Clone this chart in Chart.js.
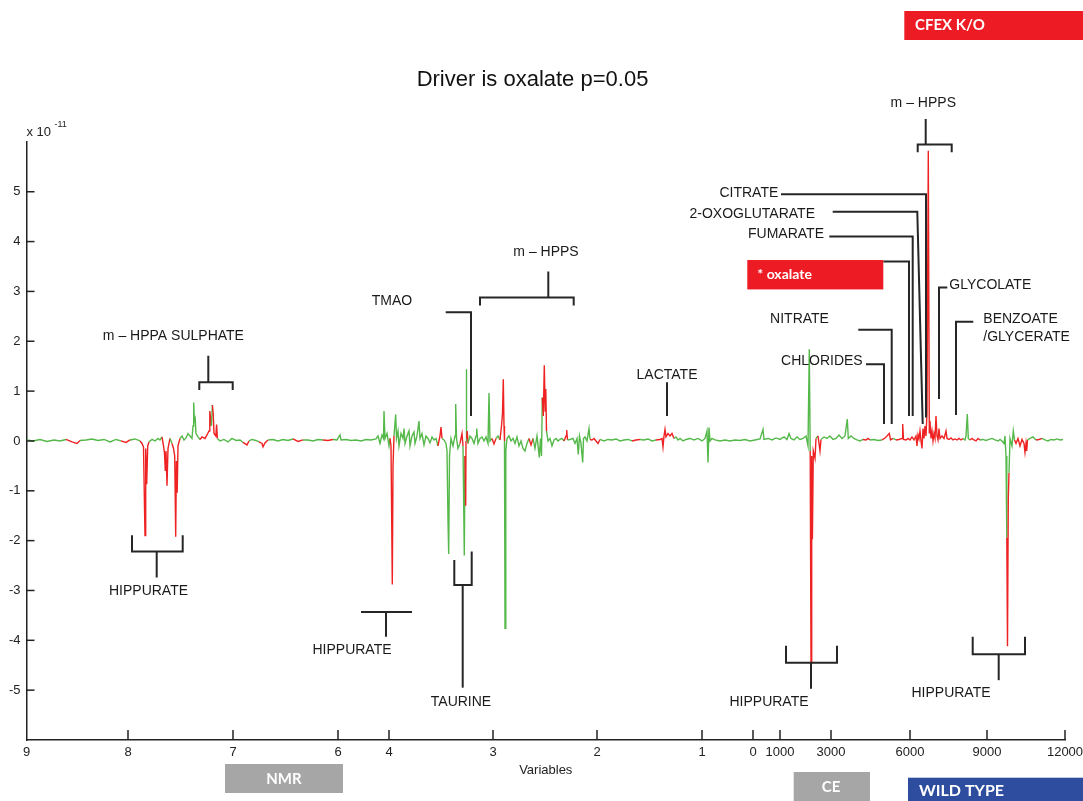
<!DOCTYPE html>
<html><head><meta charset="utf-8">
<script src="https://cdn.jsdelivr.net/npm/chart.js@4.4.1/dist/chart.umd.min.js"></script>
<style>html,body{margin:0;padding:0;background:#fff;}#wrap{width:1083px;height:801px;position:relative;}</style>
</head><body><div id="wrap"><canvas id="c" width="1083" height="801"></canvas></div>
<script>
// ---- NMR part (variable index 0..726) ----
const nmrIndex = [0,6,13,20,27,33,39,45,50,53,59,65,71,77,83,89,94,99,103,108,113,115,116.5,118,118.7,119.7,120.7,122,125,128,131,133,135,136.5,137.5,138.3,139,140,141,143,145,146.5,147.7,148.7,149.4,150.2,151,153,155,157,159,161,163,165,166,166.7,167.4,168.2,169,171,173,175,178,180,182,182.8,183.6,184.4,185.4,186.2,187,188.8,189.6,190.4,193,197,201,205,209,213,216,220,222,225,229,232,235,236,238,241,246,251,256,261,266,271,276,281,286,291,296,301,306,310,313,314,319,324,329,334,339,344,349,351,353,355,356.5,357,358,360,362,363,364,365.3,366,367,368.7,369.5,371,372,374,376,377,378,380,382,383,385,387,388,390,392,393,395,397,399,401,403,405,407,409,411,413,414,415,417,419,420,421,421.7,422.5,424,426,428,428.7,429.5,431,433,435,436,437.3,438,438.7,439,439.3,439.7,440.2,441,443,445,447,449,449.7,451,453,455,457,459,461,462,463,465,467,469,471,473,474.5,475.5,476.3,477,477.5,478,478.8,480,482,484,486,488,490,492,494,496,498,500,502,504,506,508,510,512.3,513.5,514.5,515.3,516.3,517.3,518.2,518.8,519.5,521,523,525,527,529,531,533,535,537,539,539.7,540.5,543,546,548,550,551.3,552.5,554,555.7,556.5,558,560,562,563,565,567,569,571,573,577,581,585,589,593,597,601,605,609,613,617,621,625,629,633,635,636,637,638,639,641,643,645,647,649,651,653,656,659,663,667,671,675,678,680,681,682,683,685,688,693,698,703,708,713,718,723];
const nmrLoading = [0.02,0,0.03,-0.01,0.02,0,0.03,-0.02,-0.05,0.01,0.02,0.04,0.01,0.03,-0.02,0.03,0,-0.03,0.02,0.04,0,-0.05,-0.12,-1.9,-0.15,-0.87,-0.1,-0.02,0.03,0,0.05,0.02,0.08,-0.1,-0.25,-0.6,-0.2,-0.9,-0.15,0.05,-0.05,-0.15,-0.3,-1.92,-0.4,-1.04,-0.1,0.05,0.1,0.02,0.06,0.15,0.1,0.05,0.3,0.77,0.4,0.45,0.15,0.08,0.03,0.08,0.05,0.12,0.2,0.6,0.45,0.3,0.72,0.55,0.15,0.1,0.33,0.05,0,0.03,-0.02,0.05,0.01,0.02,-0.03,-0.08,0,0.03,0.01,-0.02,-0.05,-0.12,-0.04,0.02,0.03,0,0.03,0.01,0.04,-0.01,0.02,0.02,0,0.03,0.02,0.01,0.03,0.02,0.12,0.02,0.03,0.01,0.02,0,0.03,0.02,0.04,0.1,-0.05,0.12,0.05,0.6,0.05,0.15,-0.1,0.05,-0.1,-2.88,-0.5,0.1,0.53,0.05,0.2,-0.1,0.15,0.05,0.25,-0.05,0.1,0.2,-0.1,0.1,0.18,-0.05,0.1,0.4,0.05,0.15,-0.08,0.1,0.05,-0.04,0.08,0.02,0.05,-0.1,0.1,0.28,0.05,0.02,-0.05,-0.2,-1.6,-2.27,-0.3,0.05,-0.1,0.1,0.74,0.05,-0.15,-0.05,0.15,-0.1,-2.3,-0.3,-1.3,0,1.44,0.05,0.2,-0.05,0.1,0.05,-0.05,0.1,0.25,-0.05,0.05,0.08,0,0.08,-0.05,0.96,0,0.05,-0.06,0.05,0.1,0.02,0.3,0.55,1.24,0.3,0,-3.76,-0.2,0.05,0.1,0,0.05,-0.05,0.08,-0.1,0,-0.15,-0.2,-0.05,0.05,-0.08,0.05,-0.15,0.1,-0.33,0.05,-0.3,0.87,0.5,1.52,0.6,1.04,0.2,0,0.05,-0.1,0.02,0.05,0,0.03,0.05,0,0.1,0.22,0.02,0.03,0.05,-0.05,0.05,-0.27,0.1,-0.05,-0.43,0.05,0.08,0,0.25,0.03,0.02,0.05,0,-0.05,0.03,0,0.03,0.02,0.04,0,0.02,0.03,0,0.02,0.03,0.02,0.04,0,0.02,0.03,0.05,-0.12,0.1,0.23,0.08,0.15,0.1,0.15,0.05,0.08,0.02,0.05,0,0.03,0.05,0.02,0.05,0,0.05,0.2,-0.43,0.27,0,0.05,0.02,0,0.02,0,0.02,0.01,0.03,0];
// ---- CE part (variable index 726..1038) ----
const ceIndex = [728,733,736,737,741,745,749,753,757,760,762,764,767,770,773,776,779,781,782.3,783.2,784,784.7,785.4,786.3,788,789,791,793,794,797,800,803,806,809,812,815,818,820.3,821.3,824,827,830,833,836,839,841,843,847,851,855,858,860,862.3,863.5,866,869,872,875,875.7,876.5,879,881,883,885,887,889,890,891,892,893,894,895,896,897,898,899,900,901.3,902.3,903,904,905,906,907,908,909,910,911,912,913,915,917,919,920,922,924,926,928,930,932,934,936,938,939,940.3,941.3,943,945,947,949,951,953,956,959,962,965,968,971,973,975,977,978,979,979.8,980.5,981.3,982,983,985,986.3,987.5,989,991,993,995,997,998,999,999.7,1000.5,1003,1006,1009,1012,1015,1018,1021,1024,1027,1030,1033,1036];
const ceLoading = [0.02,0.04,0.23,0.03,0.05,0.02,0.06,0.03,0.08,0.03,0.15,0.05,0.02,0.08,0.03,0.05,0.1,-0.1,1.84,-0.2,-4.45,-0.3,-1.97,-0.2,-0.35,0.05,0.1,-0.2,0.03,0.08,0.05,0.1,0.03,0.05,0.12,0.05,0.1,0.44,0.05,0.1,0.05,0.02,0,0.03,0.02,0.05,0.02,0.03,0.01,0.02,0.06,0.1,0.15,0.02,0.05,0.02,0.03,0.05,0.34,0.03,0.02,0.05,0.02,0.08,0.02,0.1,-0.1,0.12,0.04,0.2,0,-0.15,0.25,0.05,0.3,0.1,0.55,5.82,0.15,0.4,0.05,0.2,0,0.15,0.05,0.5,0.1,0.02,0.25,0.05,0.1,0.05,0.2,0.05,0.03,0.06,0.02,0.04,0.02,0.05,0.02,0.05,0.02,0.1,0.54,0.05,0.02,0.05,0.02,0,0.05,0.02,0.03,0.01,0.03,0.05,0.02,0,0.03,0,-0.05,0.1,-0.3,-1.94,-4.12,-1.14,-0.64,0.05,-0.1,0.2,0.02,-0.05,0.05,-0.1,0.03,-0.05,-0.23,-0.05,-0.2,0.02,0.05,0.08,0.02,0.03,0.05,0.02,0,0.03,0.02,0.04,0.02,0.03];
// variable-index ranges flagged significant (p < 0.05)
const nmrSignificantRanges = [[45,50],[99,99],[115,120.7],[136.5,141],[146.5,151],[175,175],[180,183.6],[186.2,189.6],[220,220],[235,238],[271,271],[301,301],[364,366],[413,414],[435,435],[438.7,438.7],[440.2,440.2],[467,467],[474.5,477],[504,504],[516.3,518.8],[539,539.7],[565,567],[571,571],[609,609],[633,645]];
const ceSignificantRanges = [[784,788],[793,793],[839,841],[858,863.5],[872,885],[889,922],[926,928],[932,934],[945,945],[949,951],[980.5,981.3],[989,999.7],[1012,1012]];

const xTickPositions = [-0.5,101,206,311,362,466,570,675,726,753,804,883,960,1038];
const xTickLabels = ['9','8','7','6','4','3','2','1','0','1000','3000','6000','9000','12000'];
const yTickValues = [-5,-4,-3,-2,-1,0,1,2,3,4,5];

const annotationLabels = [
  {text:'m \u2013 HPPA SULPHATE', x:146.4, y:2.11, align:'center'},
  {text:'HIPPURATE', x:121.5, y:-3.01, align:'center'},
  {text:'HIPPURATE', x:325, y:-4.19, align:'center'},
  {text:'TAURINE', x:434, y:-5.24, align:'center'},
  {text:'TMAO', x:365, y:2.81, align:'center'},
  {text:'m \u2013 HPPS', x:519, y:3.79, align:'center'},
  {text:'LACTATE', x:640, y:1.32, align:'center'},
  {text:'m \u2013 HPPS', x:896.3, y:6.78, align:'center'},
  {text:'CITRATE', x:751.3, y:4.98, align:'right'},
  {text:'2-OXOGLUTARATE', x:788, y:4.56, align:'right'},
  {text:'FUMARATE', x:797, y:4.15, align:'right'},
  {text:'GLYCOLATE', x:922.3, y:3.13, align:'left'},
  {text:'NITRATE', x:772.5, y:2.44, align:'center'},
  {text:'CHLORIDES', x:835.7, y:1.61, align:'right'},
  {text:'BENZOATE', x:956.3, y:2.44, align:'left'},
  {text:'/GLYCERATE', x:956.3, y:2.08, align:'left'},
  {text:'HIPPURATE', x:742, y:-5.24, align:'center'},
  {text:'HIPPURATE', x:924, y:-5.05, align:'center'}
];
const annotationLines = [
  [[172.3,1.02],[172.3,1.18],[205.7,1.18],[205.7,1.02]], [[181.3,1.18],[181.3,1.71]],
  [[105,-1.89],[105,-2.22],[155.7,-2.22],[155.7,-1.89]], [[129.7,-2.22],[129.7,-2.74]],
  [[334,-3.43],[385,-3.43]], [[359,-3.43],[359,-3.93]],
  [[427.3,-2.39],[427.3,-2.89],[444.7,-2.89],[444.7,-2.22]], [[435.7,-2.89],[435.7,-4.95]],
  [[418.7,2.58],[444,2.58],[444,0.5]],
  [[453,2.72],[453,2.88],[546.7,2.88],[546.7,2.72]], [[521.3,2.88],[521.3,3.40]],
  [[640,1.18],[640,0.5]],
  [[890.7,5.79],[890.7,5.95],[924.7,5.95],[924.7,5.79]], [[898.7,5.95],[898.7,6.46]],
  [[754,4.95],[899,4.95],[899,0.47]],
  [[805.7,4.60],[890.3,4.60],[895.7,0.34]],
  [[802.3,4.10],[885.7,4.10],[885.7,0.5]],
  [[856.3,3.60],[882,3.60],[882,0.5]],
  [[920.3,3.08],[912,3.08],[912,0.84]],
  [[831.3,2.23],[864.7,2.23],[864.7,0.34]],
  [[839,1.54],[857,1.54],[857,0.34]],
  [[946.3,2.39],[929,2.39],[929,0.52]],
  [[759,-4.11],[759,-4.45],[810,-4.45],[810,-4.11]], [[784,-4.45],[784,-4.97]],
  [[945.7,-3.93],[945.7,-4.28],[998,-4.28],[998,-3.93]], [[971.7,-4.28],[971.7,-4.80]]
];
const oxalateBox = {x0:720.3, x1:856.3, y0:3.63, y1:3.04, text:'* oxalate'};

const GREEN = '#55b84a';
const RED = '#ee2222';
const FONT = 'Arial, "Liberation Sans", sans-serif';
const BOXFONT = 'Lato, "Open Sans", sans-serif';

const points = nmrIndex.map((x,i)=>({x, y:nmrLoading[i]})).concat(ceIndex.map((x,i)=>({x, y:ceLoading[i]})));
const sigRanges = nmrSignificantRanges.concat(ceSignificantRanges);
const sig = points.map(p => sigRanges.some(r => p.x >= r[0] && p.x <= r[1]));

const decor = {
  id:'decor',
  afterDraw(chart){
    const {ctx, scales:{x, y}, chartArea:a} = chart;
    ctx.save();
    ctx.strokeStyle = '#222'; ctx.lineWidth = 1.5;
    yTickValues.forEach(v=>{ const py=y.getPixelForValue(v); ctx.beginPath(); ctx.moveTo(a.left,py); ctx.lineTo(a.left+8,py); ctx.stroke(); });
    xTickPositions.forEach((v,i)=>{ if(i===0) return; const px=x.getPixelForValue(v); ctx.beginPath(); ctx.moveTo(px,a.bottom); ctx.lineTo(px,a.bottom-10); ctx.stroke(); });
    ctx.fillStyle = '#222'; ctx.textBaseline='middle'; ctx.textAlign='left';
    ctx.font = '13px '+FONT; ctx.fillText('x 10', 26.5, 132.5);
    ctx.font = '9px '+FONT; ctx.fillText('-11', 54.5, 125);
    ctx.strokeStyle = '#262626'; ctx.lineWidth = 2; ctx.lineJoin='miter';
    annotationLines.forEach(pl=>{
      ctx.beginPath();
      pl.forEach((p,i)=>{ const px=x.getPixelForValue(p[0]), py=y.getPixelForValue(p[1]); i?ctx.lineTo(px,py):ctx.moveTo(px,py); });
      ctx.stroke();
    });
    const bx0=x.getPixelForValue(oxalateBox.x0), bx1=x.getPixelForValue(oxalateBox.x1);
    const by0=y.getPixelForValue(oxalateBox.y0), by1=y.getPixelForValue(oxalateBox.y1);
    ctx.fillStyle = '#ed1c24'; ctx.fillRect(bx0,by0,bx1-bx0,by1-by0);
    ctx.fillStyle = '#fff'; ctx.font = 'bold 14px '+BOXFONT; ctx.textAlign='left';
    ctx.fillText(oxalateBox.text, bx0+10, (by0+by1)/2);
    ctx.fillStyle = '#1a1a1a'; ctx.font = '14px '+FONT;
    annotationLabels.forEach(l=>{ ctx.textAlign=l.align; ctx.fillText(l.text, x.getPixelForValue(l.x), y.getPixelForValue(l.y)); });
    const boxes = [
      {x:904.3,y:11,w:179,h:29,c:'#ed1c24',t:'CFEX K/O',tx:915,ty:25.5,al:'left',f:'bold 15px '},
      {x:225,y:764,w:118,h:29,c:'#a6a6a6',t:'NMR',tx:284,ty:779,al:'center',f:'bold 15px '},
      {x:793.7,y:772,w:76.3,h:29,c:'#a6a6a6',t:'CE',tx:831,ty:787,al:'center',f:'bold 15px '},
      {x:908,y:777.7,w:175,h:24,c:'#2e4d9e',t:'WILD TYPE',tx:919,ty:791,al:'left',f:'bold 16px '}
    ];
    boxes.forEach(b=>{ ctx.fillStyle=b.c; ctx.fillRect(b.x,b.y,b.w,b.h); ctx.fillStyle='#fff'; ctx.font=b.f+BOXFONT; ctx.textAlign=b.al; ctx.fillText(b.t,b.tx,b.ty); });
    ctx.restore();
  }
};

new Chart(document.getElementById('c'), {
  type:'line',
  data:{datasets:[{data:points, borderColor:GREEN, borderWidth:1.4, pointRadius:0, tension:0, fill:false,
    segment:{borderColor: c => (sig[c.p0DataIndex]||sig[c.p1DataIndex]) ? RED : GREEN}}]},
  options:{
    responsive:false, animation:false, events:[],
    layout:{padding:{top:0,right:18,left:0,bottom:0}},
    plugins:{
      legend:{display:false}, tooltip:{enabled:false},
      title:{display:true, text:'Driver is oxalate p=0.05', color:'#111', font:{family:FONT,size:22,weight:'normal',lineHeight:1.2}, padding:{top:67,bottom:48.5}}
    },
    scales:{
      x:{type:'linear', min:-0.5, max:1038,
        afterBuildTicks: s => { s.ticks = xTickPositions.map(v=>({value:v})); },
        afterFit: s => { s.height = 61; s.paddingLeft = 0; s.paddingRight = 0; },
        ticks:{callback:(v,i)=>xTickLabels[i], autoSkip:false, maxRotation:0, padding:5, color:'#222', font:{family:FONT,size:13}},
        grid:{display:false, drawTicks:false},
        border:{display:true, color:'#222', width:1.5},
        title:{display:true, text:'Variables', color:'#222', font:{family:FONT,size:13}, padding:{top:0,bottom:23}}
      },
      y:{min:-6, max:6,
        afterBuildTicks: s => { s.ticks = yTickValues.map(v=>({value:v})); },
        afterFit: s => { s.width = 26.5; },
        ticks:{padding:6, color:'#222', font:{family:FONT,size:13}},
        grid:{display:false, drawTicks:false},
        border:{display:true, color:'#222', width:1.5}
      }
    }
  },
  plugins:[decor]
});
</script></body></html>
